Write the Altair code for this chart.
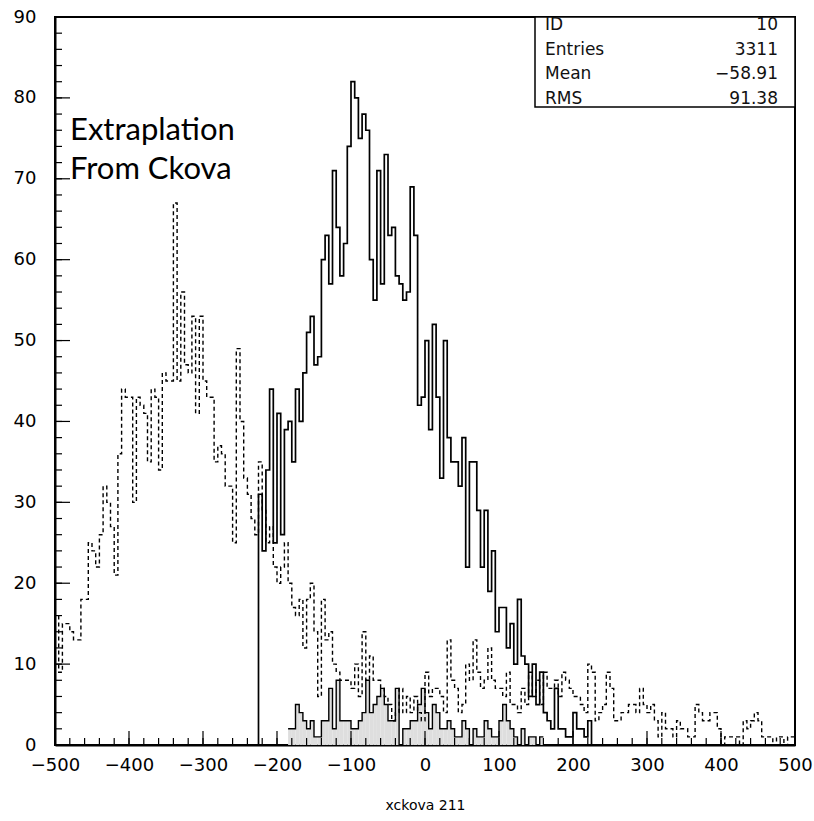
import altair as alt
import pandas as pd

BIN = 5
X_DOMAIN = [-500, 500]
Y_DOMAIN = [0, 90]

# solid histogram (left edge -225, bin width 5)
SOLID_START = -225
SOLID = [31, 24, 34, 44, 25, 41, 26, 39, 40, 35,
         44, 40, 46, 51, 53, 47, 48, 60, 63, 57,
         71, 64, 58, 62, 74, 82, 80, 75, 78, 76,
         60, 55, 71, 57, 73, 63, 64, 58, 57, 55,
         56, 69, 63, 42, 43, 50, 39, 52, 43, 33,
         50, 38, 35, 35, 32, 38, 22, 35, 35, 29,
         22, 29, 19, 24, 14, 17, 17, 12, 15, 10,
         18, 11, 10, 6, 10, 5, 9, 4, 3, 2,
         7, 2, 2, 1, 1, 4, 2, 2, 1, 3]

# dashed histogram (left edge -500)
DASH_START = -500
DASHED = [16, 9, 15, 15, 14, 13, 13, 18, 18, 25,
          24, 22, 26, 32, 30, 27, 21, 36, 44, 43,
          43, 30, 43, 42, 41, 35, 44, 43, 34, 46,
          45, 45, 67, 45, 56, 47, 46, 53, 41, 53,
          45, 43, 43, 35, 37, 36, 32, 32, 25, 49,
          40, 33, 31, 28, 26, 35, 29, 25, 27, 22,
          20, 22, 25, 20, 17, 16, 18, 12, 18, 20,
          14, 6, 18, 13, 14, 10, 9, 8, 8, 8,
          7, 10, 6, 14, 8, 11, 8, 8, 7, 6,
          5, 3, 4, 7, 4, 6, 4, 6, 4, 3,
          9, 6, 7, 7, 6, 4, 13, 8, 7, 4,
          5, 10, 8, 13, 9, 7, 8, 12, 8, 7,
          7, 6, 9, 5, 5, 4, 7, 5, 9, 6,
          8, 5, 9, 7, 7, 8, 6, 9, 8, 7,
          6, 6, 5, 4, 10, 9, 3, 4, 5, 9,
          7, 3, 3, 4, 4, 5, 5, 4, 7, 5,
          4, 5, 3, 1, 4, 2, 2, 1, 3, 2,
          2, 1, 1, 5, 4, 3, 3, 4, 4, 2,
          0, 1, 1, 1, 1, 0, 3, 2, 3, 4,
          3, 1, 1, 1, 0, 1, 1, 0, 1, 1]

# shaded histogram (left edge -185)
SHADED_START = -185
SHADED = [2, 2, 5, 4, 3, 2, 3, 1, 1, 3,
          3, 7, 2, 8, 3, 3, 3, 2, 2, 3,
          4, 8, 4, 5, 6, 7, 5, 3, 3, 7,
          0, 2, 2, 3, 3, 5, 7, 4, 2, 5,
          4, 2, 2, 3, 2, 1, 1, 3, 2, 0,
          2, 1, 1, 3, 2, 1, 1, 3, 5, 3,
          2, 1, 0, 2, 0, 1, 1, 0, 1]

X_MAJOR = list(range(-500, 501, 100))
X_MINOR = list(range(-500, 501, 20))
Y_MAJOR = list(range(0, 91, 10))
Y_MINOR = list(range(0, 91, 2))

STATS_LABELS = ["ID", "Entries", "Mean", "RMS"]
STATS_VALUES = ["10", "3311", "\u221258.91", "91.38"]
NOTE_LINES = ["Extraplation", "From Ckova"]
X_TITLE = "xckova 211"

W, H = 740, 728
FONT = "DejaVu Sans"

xs = alt.Scale(domain=X_DOMAIN, nice=False, zero=False)
ys = alt.Scale(domain=Y_DOMAIN, nice=False, zero=True)

X_AX = alt.Axis(values=X_MAJOR, format="d", ticks=False, tickSize=0,
                labelFont=FONT, labelFontSize=18, labelColor="black",
                labelPadding=11, labelFlush=False, labelOverlap=False,
                domainColor="black", domainWidth=2, grid=False,
                title=X_TITLE, titleFont=FONT, titleFontSize=14,
                titleFontWeight="normal", titleColor="black",
                titleY=60, titleBaseline="middle")
Y_AX = alt.Axis(values=Y_MAJOR, format="d", ticks=False, tickSize=0,
                labelFont=FONT, labelFontSize=18, labelColor="black",
                labelPadding=19, labelFlush=False, labelOverlap=False,
                domainColor="black", domainWidth=2, grid=False, title=None)


def step_frame(start, counts, close=True):
    xs_, ys_ = [], []
    if close:
        xs_.append(start); ys_.append(0)
    for i, c in enumerate(counts):
        xs_.append(start + BIN * i); ys_.append(c)
    end = start + BIN * len(counts)
    xs_.append(end); ys_.append(counts[-1])
    if close:
        xs_.append(end); ys_.append(0)
    return pd.DataFrame({"x": xs_, "y": ys_, "i": list(range(len(xs_)))})


def step_line(df, **kw):
    return alt.Chart(df).mark_line(interpolate="step-after", **kw).encode(
        x=alt.X("x:Q", scale=xs, axis=X_AX),
        y=alt.Y("y:Q", scale=ys, axis=Y_AX),
        order=alt.Order("i:Q"),
    )


shaded_df = step_frame(SHADED_START, SHADED, close=False)
shaded_area = alt.Chart(shaded_df).mark_area(
    interpolate="step-after", color="#dedede", opacity=1
).encode(
    x=alt.X("x:Q", scale=xs, axis=X_AX),
    y=alt.Y("y:Q", scale=ys, axis=Y_AX),
    order=alt.Order("i:Q"),
)
shaded_line = step_line(shaded_df, color="black", strokeWidth=1.4)
dashed_line = step_line(step_frame(DASH_START, DASHED), color="black",
                        strokeWidth=1.4, strokeDash=[4, 3])
solid_line = step_line(step_frame(SOLID_START, SOLID), color="black",
                       strokeWidth=1.7)


# inward ticks
def yticks(vals, length):
    return alt.Chart(pd.DataFrame({"v": vals})).mark_rule(
        color="black", strokeWidth=1.2).encode(
        y=alt.Y("v:Q", scale=ys, axis=Y_AX),
        x=alt.value(0), x2=alt.value(length))


def xticks(vals, length):
    return alt.Chart(pd.DataFrame({"v": vals})).mark_rule(
        color="black", strokeWidth=1.2).encode(
        x=alt.X("v:Q", scale=xs, axis=X_AX),
        y=alt.value(H), y2=alt.value(H - length))


ticks = [yticks(Y_MINOR, 7), yticks(Y_MAJOR, 15),
         xticks(X_MINOR, 7), xticks(X_MAJOR, 14)]

# statistics box
box = alt.Chart(pd.DataFrame({"a": [0]})).mark_rect(
    fill="white", stroke="black", strokeWidth=1.5).encode(
    x=alt.value(480), x2=alt.value(W), y=alt.value(0), y2=alt.value(90))

stats = []
for k, (lab, val) in enumerate(zip(STATS_LABELS, STATS_VALUES)):
    yy = 8 + 24.6 * k
    stats.append(alt.Chart(pd.DataFrame({"t": [lab]})).mark_text(
        font=FONT, fontSize=17, align="left", baseline="middle", color="#111"
    ).encode(text="t:N", x=alt.value(490), y=alt.value(yy)))
    stats.append(alt.Chart(pd.DataFrame({"t": [val]})).mark_text(
        font=FONT, fontSize=17, align="right", baseline="middle", color="#111"
    ).encode(text="t:N", x=alt.value(723), y=alt.value(yy)))

notes = []
for k, line in enumerate(NOTE_LINES):
    notes.append(alt.Chart(pd.DataFrame({"t": [line]})).mark_text(
        font="Lato", fontSize=31, align="left", baseline="alphabetic",
        color="black"
    ).encode(text="t:N", x=alt.value(15), y=alt.value(123 + 39 * k)))

chart = alt.layer(
    shaded_area, shaded_line, dashed_line, solid_line, *ticks, box, *stats, *notes
).properties(
    width=W, height=H,
    padding={"left": 55, "top": 17, "right": 19, "bottom": 76},
    autosize=alt.AutoSizeParams(type="none"),
    background="white",
).configure_view(stroke="black", strokeWidth=2)

chart.save("out.html", embed_options={"renderer": "svg", "actions": False})
